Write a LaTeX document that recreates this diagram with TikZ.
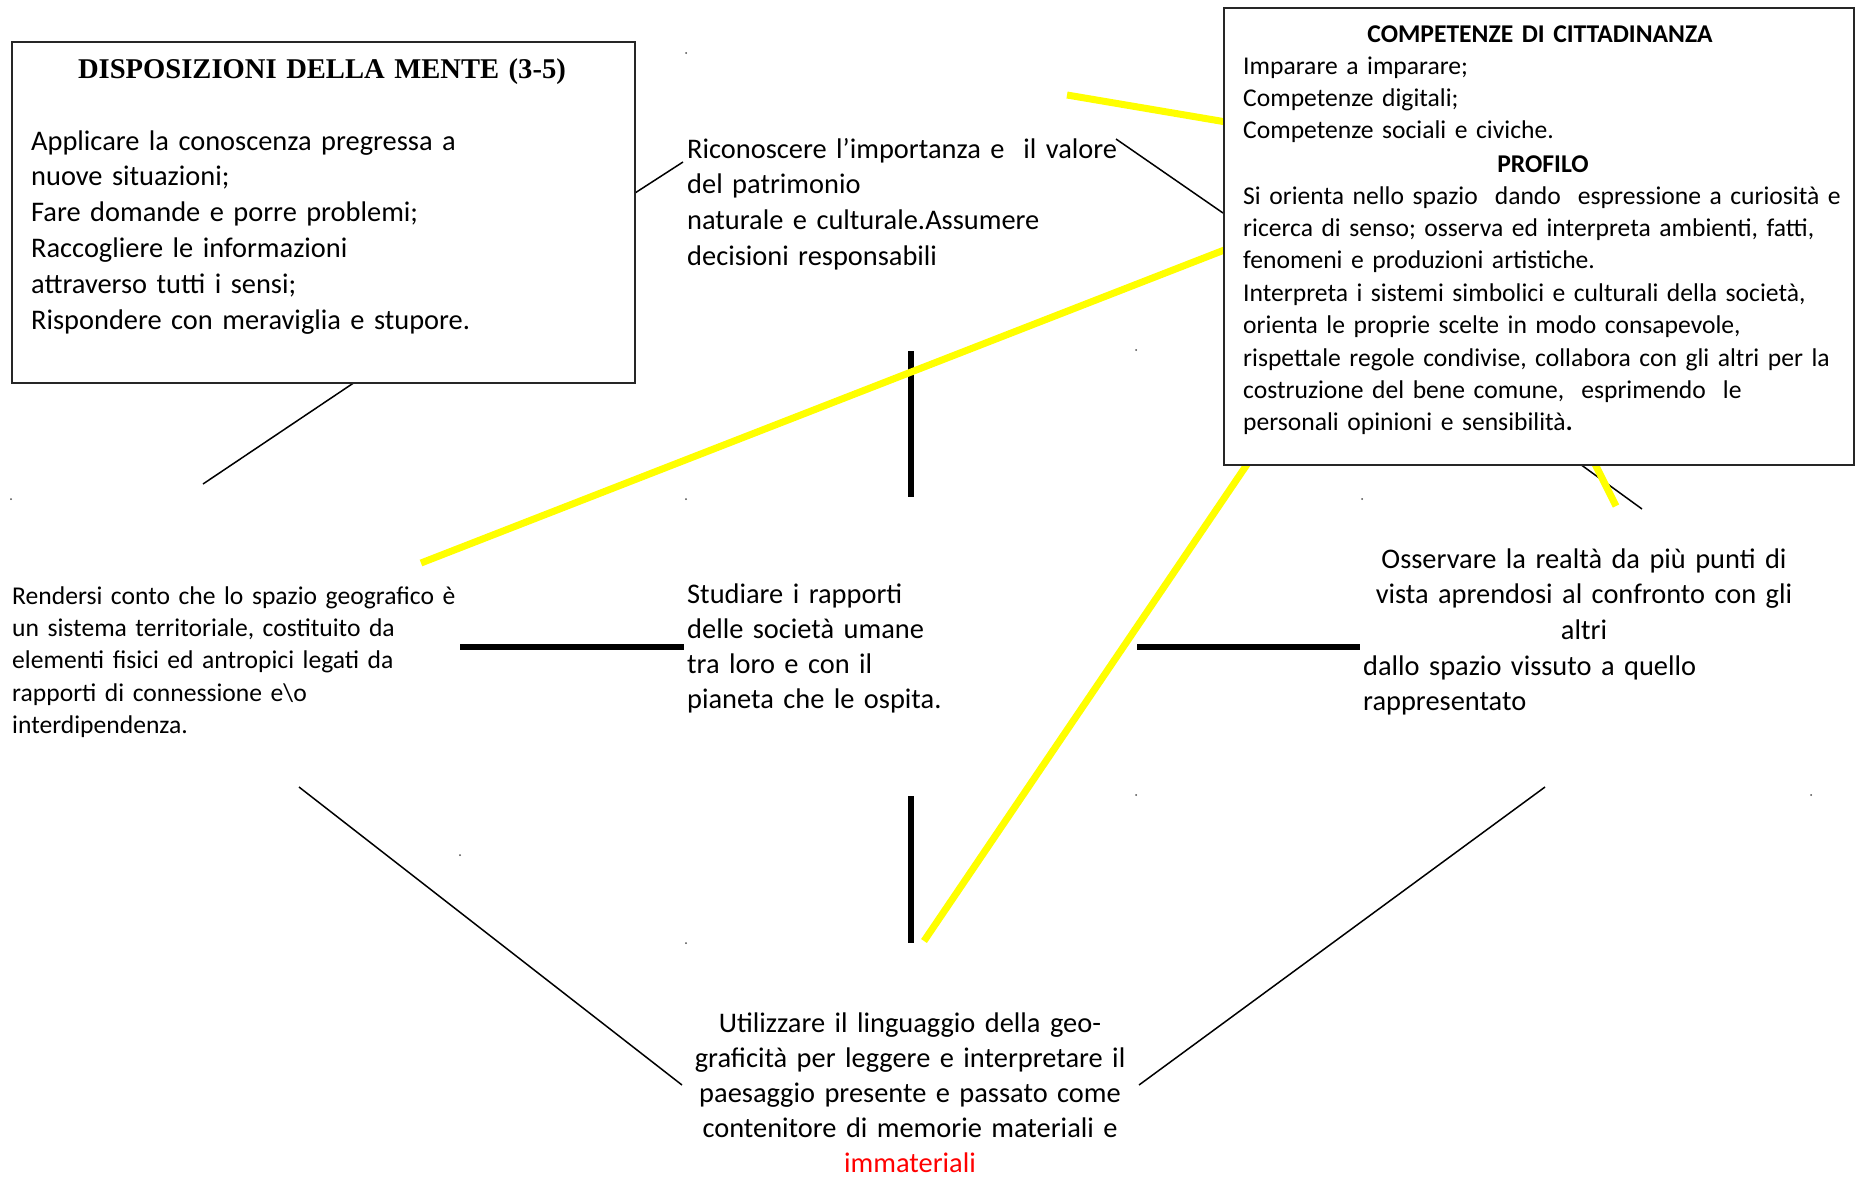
\documentclass[tikz,border=0pt]{standalone}
\usepackage{fontspec}
\setmainfont{Carlito}
\newfontfamily\serifttl{Liberation Serif}
\begin{document}
\begin{tikzpicture}[x=1pt,y=-1pt,
  box/.style={draw=black!85, line width=2pt, fill=white, inner sep=0pt, anchor=north west},
  txtl/.style={inner sep=0pt, anchor=base west, align=left, text width=640pt},
  txtc/.style={inner sep=0pt, anchor=base, align=center, text width=640pt},
  big/.style={font=\fontsize{28.4}{35.8}\selectfont},
  small/.style={font=\fontsize{25.6}{32.4}\selectfont},
  smallbold/.style={font=\bfseries\fontsize{25.6}{32.4}\selectfont},
  thin/.style={line width=1.5pt, black},
  thick/.style={line width=6pt, black},
  hl/.style={line width=7pt, color={rgb,255:red,255;green,255;blue,0}},
  dot/.style={fill=black!70, draw=none}]
\useasboundingbox (0,0) rectangle (1855,1176);
\fill[white] (0,0) rectangle (1855,1176);

% coordinates
\coordinate (c1a) at (635,193);  \coordinate (c1b) at (683,162);
\coordinate (c2a) at (1116,139); \coordinate (c2b) at (1223,213);
\coordinate (c3a) at (355,382);  \coordinate (c3b) at (203,484);
\coordinate (c4a) at (1580,464); \coordinate (c4b) at (1642,509);
\coordinate (c5a) at (299,787);  \coordinate (c5b) at (682,1085);
\coordinate (c6a) at (1545,787); \coordinate (c6b) at (1139,1085);
\coordinate (v1a) at (911,351);  \coordinate (v1b) at (911,497);
\coordinate (v2a) at (911,796);  \coordinate (v2b) at (911,943);
\coordinate (h1a) at (460,647);  \coordinate (h1b) at (684,647);
\coordinate (h2a) at (1137,647); \coordinate (h2b) at (1360,647);
\coordinate (y1a) at (1067,95);  \coordinate (y1b) at (1232,123);
\coordinate (y2a) at (421,563);  \coordinate (y2b) at (1232,247);
\coordinate (y3a) at (1252,457); \coordinate (y3b) at (924,941);
\coordinate (y4a) at (1592,458); \coordinate (y4b) at (1616,506);

% thick black bars
\draw[thick] (v1a) -- (v1b);
\draw[thick] (v2a) -- (v2b);
\draw[thick] (h1a) -- (h1b);
\draw[thick] (h2a) -- (h2b);

% thin connectors
\draw[thin] (c1a) -- (c1b);
\draw[thin] (c2a) -- (c2b);
\draw[thin] (c3a) -- (c3b);
\draw[thin] (c4a) -- (c4b);
\draw[thin] (c5a) -- (c5b);
\draw[thin] (c6a) -- (c6b);

% yellow highlights
\draw[hl] (y1a) -- (y1b);
\draw[hl] (y2a) -- (y2b);
\draw[hl] (y3a) -- (y3b);
\draw[hl] (y4a) -- (y4b);

% boxes
\node[box, minimum width=623pt, minimum height=341pt] (lbox) at (11,41) {};
\node[box, minimum width=630pt, minimum height=457pt] (rbox) at (1223,7) {};

% left box text
\node[txtc, font=\serifttl\bfseries\fontsize{28.6}{34}\selectfont] (ltitle) at (322,78) {DISPOSIZIONI DELLA MENTE (3-5)};
\node[txtl, big] (lbody) at (31,150) {Applicare la conoscenza pregressa a\\
nuove situazioni;\\
Fare domande e porre problemi;\\
Raccogliere le informazioni\\
attraverso tutti i sensi;\\
Rispondere con meraviglia e stupore.};

% right box text
\node[txtc, smallbold] (rtitle) at (1540,42) {COMPETENZE DI CITTADINANZA};
\node[txtl, small] (rlist) at (1243,74) {Imparare a imparare;\\
Competenze digitali;\\
Competenze sociali e civiche.};
\node[txtc, smallbold] (rprof) at (1543,172) {PROFILO};
\node[txtl, small] (rbody) at (1243,204) {Si orienta nello spazio\ \ dando\ \ espressione a curiosità e\\
ricerca di senso; osserva ed interpreta ambienti, fatti,\\
fenomeni e produzioni artistiche.\\
Interpreta i sistemi simbolici e culturali della società,\\
orienta le proprie scelte in modo consapevole,\\
rispettale regole condivise, collabora con gli altri per la\\
costruzione del bene comune,\ \ esprimendo\ \ le\\
personali opinioni e sensibilità\textbf{.}};

% other texts
\node[txtl, big] (tmid) at (687,158) {Riconoscere l’importanza e\ \ il valore\\
del patrimonio\\
naturale e culturale.Assumere\\
decisioni responsabili};
\node[txtl, small] (tleft) at (12,604) {Rendersi conto che lo spazio geografico è\\
un sistema territoriale, costituito da\\
elementi fisici ed antropici legati da\\
rapporti di connessione e\textbackslash o\\
interdipendenza.};
\node[txtl, font=\fontsize{28.4}{35}\selectfont] (tcenter) at (687,603) {Studiare i rapporti\\
delle società umane\\
tra loro e con il\\
pianeta che le ospita.};
\node[txtc, big] (tright) at (1584,568) {Osservare la realtà da più punti di\\
vista aprendosi al confronto con gli\\
altri};
\node[txtl, big] (tright2) at (1363,675) {dallo spazio vissuto a quello\\
rappresentato};
\node[txtc, font=\fontsize{28.4}{35}\selectfont] (tbottom) at (910,1032) {Utilizzare il linguaggio della geo-\\
graficità per leggere e interpretare il\\
paesaggio presente e passato come\\
contenitore di memorie materiali e\\
\textcolor{red}{immateriali}};

% tiny marks
\foreach \p in {(686,53),(1136,350),(11,499),(686,499),(1362,499),(1136,795),(1811,795),(460,855),(686,943)}
  \fill[dot] \p circle (1pt);
\end{tikzpicture}
\end{document}
